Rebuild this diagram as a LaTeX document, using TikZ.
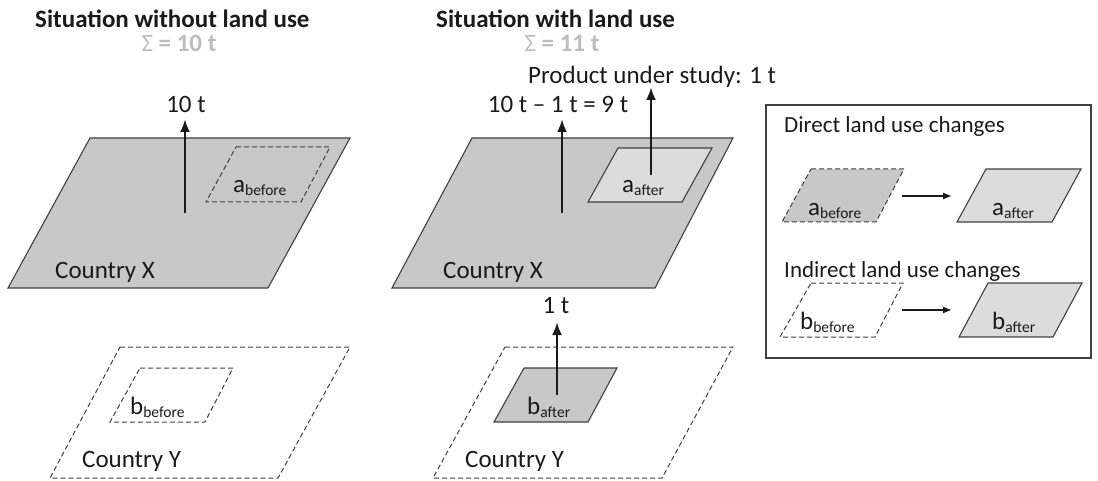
\documentclass[tikz,border=0pt]{standalone}
\usepackage{fontspec}
\setmainfont{Carlito}
\usetikzlibrary{arrows.meta}
\definecolor{darkfill}{HTML}{C8C8C8}
\definecolor{lightfill}{HTML}{DCDCDC}
\definecolor{edge}{HTML}{404040}
\definecolor{sumgray}{HTML}{BDBDBD}
\definecolor{txt}{HTML}{1A1A1A}
\newcommand{\lbl}[2]{#1\raisebox{-3pt}{\fontsize{15.5}{18}\selectfont #2}}
\tikzset{
  txt/.style={inner sep=0pt, font=\fontsize{25}{30}\selectfont, text=txt},
  legtxt/.style={inner sep=0pt, font=\fontsize{23}{28}\selectfont, text=txt},
  ttl/.style={inner sep=0pt, font=\fontsize{25}{30}\selectfont\bfseries, text=txt},
  sumtxt/.style={inner sep=0pt, font=\fontsize{25}{30}\selectfont\bfseries, text=sumgray},
  land/.style={draw=edge, line width=1.1pt, line join=miter},
  dashedland/.style={draw=edge, line width=1pt, dash pattern=on 5pt off 3pt},
  bigarrow/.style={line width=2.6pt, draw=txt, -{Latex[length=13pt,width=10pt]}},
  smallarrow/.style={line width=1.3pt, draw=txt, -{Latex[length=9pt,width=7pt]}},
  legendbox/.style={draw=edge, line width=1.6pt}
}
\begin{document}
\begin{tikzpicture}[x=1pt,y=-1pt]
\useasboundingbox (0,0) rectangle (1098,481);
% ---------- Titles
\node[ttl, anchor=base west] (t1) at (35,28) {Situation without land use};
\node[sumtxt, anchor=base] (s1) at (179,52) {{\mdseries Σ} = 10 t};
\node[ttl, anchor=base west] (t2) at (436,28) {Situation with land use};
\node[sumtxt, anchor=base] (s2) at (562,52) {{\mdseries Σ} = 11 t};
% ---------- Left: Country X
\path[land, fill=darkfill] (90,138) -- (350,138) -- (268,288) -- (8,288) -- cycle;
\path[dashedland] (236,147) -- (330,147) -- (301,202) -- (206,202) -- cycle;
\node[txt, anchor=base west] (abl) at (233,193) {\lbl{a}{before}};
\node[txt, anchor=base west] (cxl) at (55,278) {Country X};
\coordinate (a1s) at (185,213);
\node[txt, anchor=base] (l10) at (186,113) {10 t};
\coordinate (a1e) at (185,119);
\draw[bigarrow] (a1s) -- (a1e);
% ---------- Left: Country Y
\path[dashedland] (120,347) -- (350,347) -- (278,478) -- (50,478) -- cycle;
\path[dashedland] (140,368) -- (233,368) -- (205,422) -- (110,422) -- cycle;
\node[txt, anchor=base west] (bbl) at (130,414) {\lbl{b}{before}};
\node[txt, anchor=base west] (cyl) at (82,467) {Country Y};
% ---------- Middle: Country X
\path[land, fill=darkfill] (472,138) -- (733,138) -- (655,288) -- (392,288) -- cycle;
\path[land, fill=lightfill] (618,148) -- (712,148) -- (682,202) -- (588,202) -- cycle;
\node[txt, anchor=base west] (aam) at (622,193) {\lbl{a}{after}};
\node[txt, anchor=base west] (cxm) at (443,278) {Country X};
\coordinate (a2s) at (562,213);
\coordinate (a2e) at (562,119);
\node[txt, anchor=base] (l9) at (558,113) {10 t – 1 t = 9 t};
\draw[bigarrow] (a2s) -- (a2e);
\coordinate (a3s) at (651,175);
\coordinate (a3e) at (651,87);
\node[txt, anchor=base west] (lp) at (528,84) {Product under study: 1 t};
\draw[bigarrow] (a3s) -- (a3e);
% ---------- Middle: Country Y
\path[dashedland] (505,347) -- (733,347) -- (662,478) -- (433,478) -- cycle;
\path[land, fill=darkfill] (524,368) -- (617,368) -- (588,422) -- (494,422) -- cycle;
\node[txt, anchor=base west] (bam) at (527,414) {\lbl{b}{after}};
\node[txt, anchor=base west] (cym) at (465,467) {Country Y};
\coordinate (a4s) at (557,395);
\coordinate (a4e) at (557,322);
\node[txt, anchor=base] (l1) at (556,313) {1 t};
\draw[bigarrow] (a4s) -- (a4e);
% ---------- Legend
\path[legendbox] (766,105) rectangle (1091,358);
\node[legtxt, anchor=base west] (ld) at (784,133) {Direct land use changes};
\path[dashedland, fill=darkfill] (811,169) -- (904,169) -- (876,222) -- (782,222) -- cycle;
\node[txt, anchor=base west] (lab) at (808,216) {\lbl{a}{before}};
\path[land, fill=lightfill] (986,169) -- (1081,169) -- (1052,222) -- (957,222) -- cycle;
\node[txt, anchor=base west] (laa) at (992,216) {\lbl{a}{after}};
\coordinate (la1) at (902,196);
\coordinate (la2) at (952,196);
\draw[smallarrow] (la1) -- (la2);
\node[legtxt, anchor=base west] (li) at (784,277) {Indirect land use changes};
\path[dashedland] (811,283) -- (903,283) -- (875,337) -- (780,337) -- cycle;
\node[txt, anchor=base west] (lbb) at (800,329) {\lbl{b}{before}};
\path[land, fill=lightfill] (988,283) -- (1082,283) -- (1053,337) -- (959,337) -- cycle;
\node[txt, anchor=base west] (lba) at (992,329) {\lbl{b}{after}};
\coordinate (lb1) at (902,310);
\coordinate (lb2) at (952,310);
\draw[smallarrow] (lb1) -- (lb2);
\end{tikzpicture}
\end{document}
